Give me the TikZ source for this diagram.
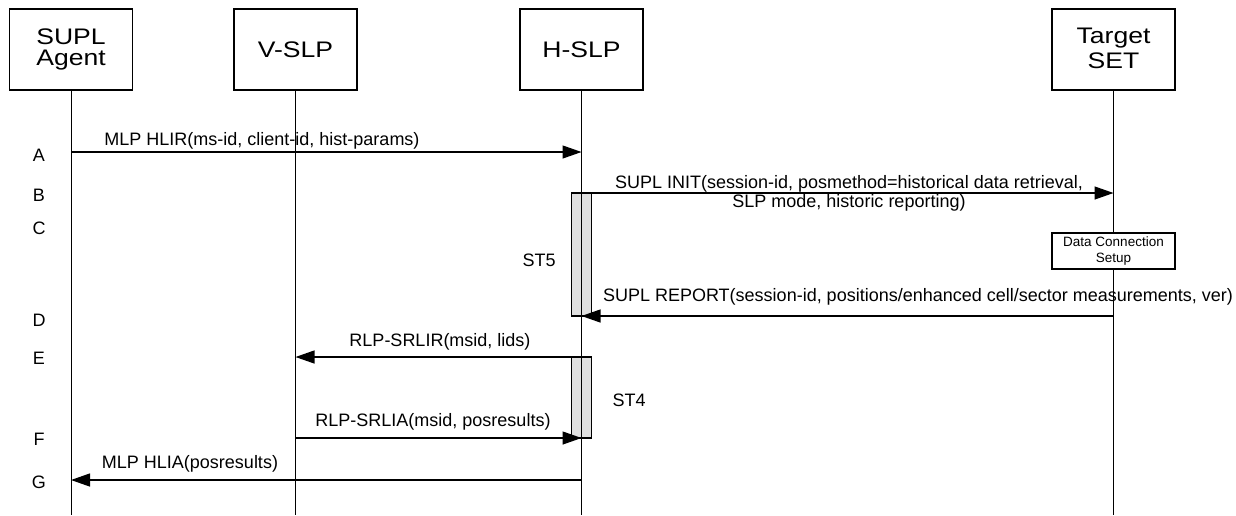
\documentclass[tikz,border=0pt]{standalone}
\usepackage{fontspec}
\setmainfont{Liberation Sans}
\newfontfamily\titlefont[FakeStretch=1.18]{Liberation Sans}
\usetikzlibrary{arrows.meta, calc}
\tikzset{
  actor/.style={draw, line width=1.2pt, minimum width=123pt, minimum height=81pt, align=center, inner sep=0pt, font=\titlefont\fontsize{22.5}{23}\selectfont},
  life/.style={line width=1pt},
  msg/.style={line width=1.3pt, -{Triangle[length=19pt, width=13pt]}},
  lbl/.style={font=\fontsize{18}{19}\selectfont, inner sep=0pt},
  act/.style={draw, line width=1.2pt, fill=black!12, minimum width=20pt, inner sep=0pt},
  setup/.style={draw, line width=1.2pt, fill=white, minimum width=123pt, minimum height=36pt, align=center, inner sep=0pt, font=\fontsize{13.5}{16}\selectfont},
}
\begin{document}
\begin{tikzpicture}[x=1pt, y=-1pt]
\useasboundingbox (0,0) rectangle (1236,515);
\node[actor] (agent) at (71,49.5) {\raisebox{3pt}{\shortstack{SUPL\\[2pt]Agent}}};
\node[actor] (vslp) at (295.5,49.5) {V-SLP};
\node[actor] (hslp) at (581.5,49.5) {H-SLP};
\node[actor] (set) at (1113.5,49.5) {\raisebox{3pt}{\shortstack{Target\\[2pt]SET}}};
\coordinate (rA) at (0,152);
\coordinate (rB) at (0,193);
\coordinate (rD) at (0,316);
\coordinate (rE) at (0,357);
\coordinate (rF) at (0,438);
\coordinate (rG) at (0,480);
\coordinate (rEnd) at (0,515);
\node[act, minimum height=123pt] (st5) at (581.5,254.5) {};
\node[act, minimum height=81pt] (st4) at (581.5,397.5) {};
\foreach \n in {agent, vslp, hslp, set}
  \draw[life] (\n) -- (\n |- rEnd);
\node[setup] (dcs) at (1113.5,251) {Data Connection\\Setup};
\draw[msg] (agent |- rA) -- (hslp |- rA);
\draw[msg] (st5.east |- rB) -- (set |- rB);
\draw[msg] (set |- rD) -- (hslp |- rD);
\draw[msg] (hslp |- rE) -- (vslp |- rE);
\draw[msg] (vslp |- rF) -- (hslp |- rF);
\draw[msg] (hslp |- rG) -- (agent |- rG);
\node[lbl, anchor=base] (lA) at (262,145) {MLP HLIR(ms-id, client-id, hist-params)};
\node[lbl, anchor=base] (lB1) at (849,188) {SUPL INIT(session-id, posmethod=historical data retrieval,};
\node[lbl, anchor=base] (lB2) at (849,207) {SLP mode, historic reporting)};
\node[lbl] (lD) at (918,297) {SUPL REPORT(session-id, positions/enhanced cell/sector measurements, ver)};
\node[lbl] (lE) at (440,342) {RLP-SRLIR(msid, lids)};
\node[lbl] (lF) at (433,422) {RLP-SRLIA(msid, posresults)};
\node[lbl] (lG) at (190,464) {MLP HLIA(posresults)};
\node[lbl] (st5lbl) at (539,260) {ST5};
\node[lbl] (st4lbl) at (629,400) {ST4};
\foreach \l/\y in {A/155, B/195, C/228, D/320, E/358, F/439, G/482}
  \node[lbl] (let\l) at (39,\y) {\l};
\end{tikzpicture}
\end{document}
